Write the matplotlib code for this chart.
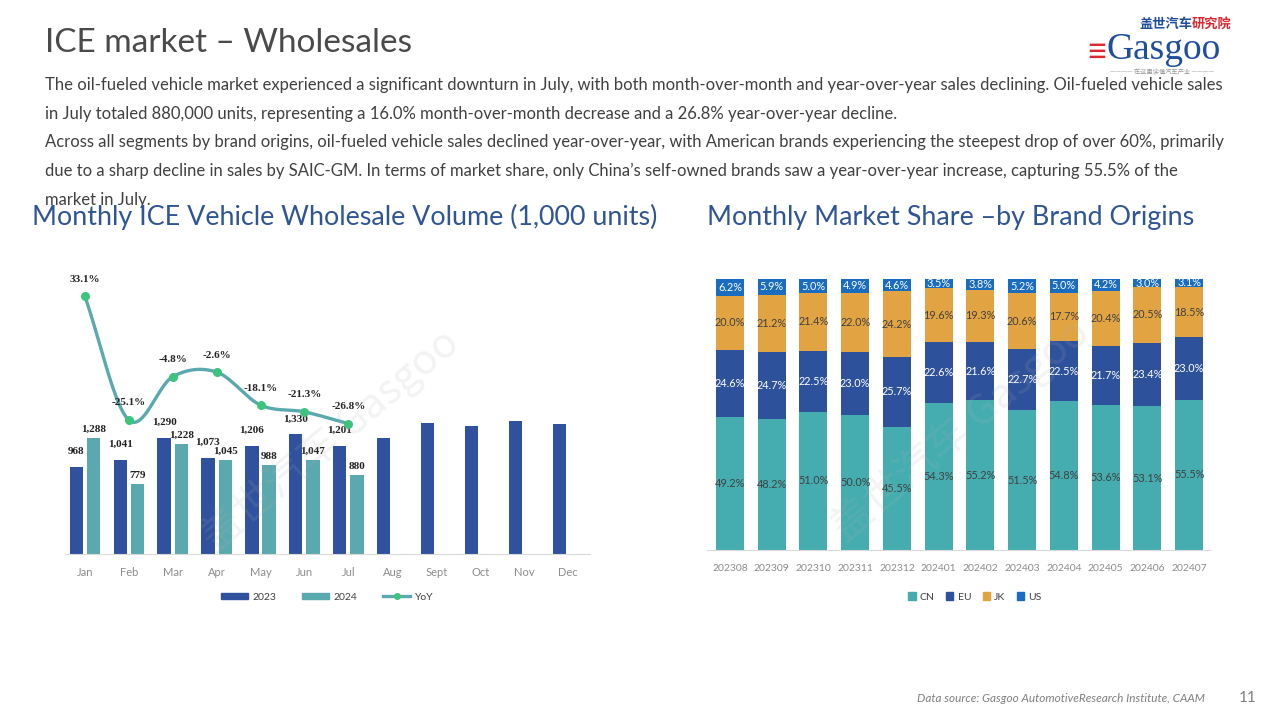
import numpy as np
import matplotlib
matplotlib.use("Agg")
import matplotlib.pyplot as plt
from matplotlib.patches import Patch
from matplotlib.lines import Line2D

plt.rcParams['font.family'] = ['Lato', 'Noto Sans CJK SC', 'DejaVu Sans']

# ---- data: left chart (1,000 units)
months = ['Jan', 'Feb', 'Mar', 'Apr', 'May', 'Jun', 'Jul', 'Aug', 'Sept', 'Oct', 'Nov', 'Dec']
sales_2023 = [968, 1041, 1290, 1073, 1206, 1330, 1201, 1290, 1455, 1420, 1475, 1445]
sales_2024 = [1288, 779, 1228, 1045, 988, 1047, 880]
yoy = [33.1, -25.1, -4.8, -2.6, -18.1, -21.3, -26.8]

# ---- data: right chart (share %)
periods = ['202308', '202309', '202310', '202311', '202312', '202401',
           '202402', '202403', '202404', '202405', '202406', '202407']
share_cn = [49.2, 48.2, 51.0, 50.0, 45.5, 54.3, 55.2, 51.5, 54.8, 53.6, 53.1, 55.5]
share_eu = [24.6, 24.7, 22.5, 23.0, 25.7, 22.6, 21.6, 22.7, 22.5, 21.7, 23.4, 23.0]
share_jk = [20.0, 21.2, 21.4, 22.0, 24.2, 19.6, 19.3, 20.6, 17.7, 20.4, 20.5, 18.5]
share_us = [6.2, 5.9, 5.0, 4.9, 4.6, 3.5, 3.8, 5.2, 5.0, 4.2, 3.0, 3.1]

c2023 = '#2f519e'
c2024 = '#5aa9ae'
c_line = '#5aa9ae'
c_mark = '#3cc47c'
c_cn, c_eu, c_jk, c_us = '#45adb0', '#2e519c', '#e2a443', '#1a6cc0'
grey_txt = '#404040'
tick_grey = '#8c8c8c'
title_blue = '#2f5597'

W, H = 1280, 720
fig = plt.figure(figsize=(12.8, 7.2), dpi=100)
fig.patch.set_facecolor('white')

def fx(px):
    return px / W

def fy(py):
    return 1 - py / H

# ---- header
fig.text(fx(45), fy(43), 'ICE market \u2013 Wholesales', fontsize=24, color='#4a4a4a',
         va='center', ha='left')
body = [
    'The oil-fueled vehicle market experienced a significant downturn in July, with both month-over-month and year-over-year sales declining. Oil-fueled vehicle sales',
    'in July totaled 880,000 units, representing a 16.0% month-over-month decrease and a 26.8% year-over-year decline.',
    'Across all segments by brand origins, oil-fueled vehicle sales declined year-over-year, with American brands experiencing the steepest drop of over 60%, primarily',
    'due to a sharp decline in sales by SAIC-GM. In terms of market share, only China\u2019s self-owned brands saw a year-over-year increase, capturing 55.5% of the',
    'market in July.',
]
for i, line in enumerate(body):
    fig.text(fx(45), fy(85 + i * 28.7), line, fontsize=12, color=grey_txt,
             va='center', ha='left')

# ---- logo
fig.text(fx(1139), fy(24), '\u76d6\u4e16\u6c7d\u8f66', fontsize=9.5, color='#1f4e9c',
         fontweight='bold', va='center', ha='left', family=['Noto Sans CJK SC'])
fig.text(fx(1192), fy(24), '\u7814\u7a76\u9662', fontsize=9.5, color='#d9282f',
         fontweight='bold', va='center', ha='left', family=['Noto Sans CJK SC'])
fig.text(fx(1086), fy(52), '\u2261', fontsize=26, color='#d9282f', va='center', ha='left')
fig.text(fx(1106), fy(50), 'Gasgoo', fontsize=27, color='#1f4e9c', va='center', ha='left',
         family=['Liberation Serif'])
fig.text(fx(1162), fy(72), '\u2014\u2014\u2014\u2014 \u5728\u8fd9\u91cc\u8bfb\u61c2\u6c7d\u8f66\u4ea7\u4e1a \u2014\u2014\u2014\u2014',
         fontsize=4.5, color='#999999', va='center', ha='center',
         family=['Noto Sans CJK SC'])

# ---- chart titles
fig.text(fx(32), fy(217), 'Monthly ICE Vehicle Wholesale Volume (1,000 units)', fontsize=19.4,
         color=title_blue, va='center', ha='left')
fig.text(fx(707), fy(217), 'Monthly Market Share \u2013by Brand Origins', fontsize=19.4,
         color=title_blue, va='center', ha='left')

# ---- left chart
ax1 = fig.add_axes([fx(65), fy(554), fx(525), 294 / H])
ax1b = ax1.twinx()
x = np.arange(len(months))
x24 = np.arange(len(sales_2024))
bw = 0.3
ax1.bar(x - 0.195, sales_2023, width=bw, color=c2023, zorder=2)
ax1.bar(x24 + 0.195, sales_2024, width=bw, color=c2024, zorder=2)
ax1.set_xlim(-0.45, 11.5)
ax1.set_ylim(0, 3270)
ax1.set_yticks([])
ax1.set_xticks(x, months)
ax1.tick_params(axis='x', length=0, pad=9, labelsize=8, labelcolor=tick_grey)
for s in ['top', 'left', 'right']:
    ax1.spines[s].set_visible(False)
ax1.spines['bottom'].set_color('#d9d9d9')

lab_font = dict(family=['Liberation Serif'], fontweight='bold', fontsize=8, color='#222222')
for i in range(7):
    ax1.annotate(f'{sales_2023[i]:,}', (x[i] - 0.195, sales_2023[i]), xytext=(0, 8),
                 textcoords='offset points', ha='center', va='bottom', **lab_font)
    ax1.annotate(f'{sales_2024[i]:,}', (x24[i] + 0.195, sales_2024[i]), xytext=(0, 3),
                 textcoords='offset points', ha='center', va='bottom', **lab_font)


# smooth curve through the YoY points (Catmull-Rom, like Excel's smoothed line)
def smooth(px, py, n=30):
    px = np.asarray(px, float)
    py = np.asarray(py, float)
    P = np.column_stack([px, py])
    P = np.vstack([2 * P[0] - P[1], P, 2 * P[-1] - P[-2]])
    out = []
    t = np.linspace(0, 1, n)[:, None]
    for k in range(1, len(P) - 2):
        p0, p1, p2, p3 = P[k - 1], P[k], P[k + 1], P[k + 2]
        seg = 0.5 * ((2 * p1) + (-p0 + p2) * t + (2 * p0 - 5 * p1 + 4 * p2 - p3) * t ** 2
                     + (-p0 + 3 * p1 - 3 * p2 + p3) * t ** 3)
        out.append(seg)
    out = np.vstack(out)
    return out[:, 0], out[:, 1]


sx, sy = smooth(x24, yoy)
ax1b.plot(sx, sy, color=c_line, lw=2.4, zorder=3, solid_capstyle='round')
ax1b.scatter(x24, yoy, s=30, color=c_mark, zorder=4)
ax1b.set_ylim(-88, 50)
ax1b.set_yticks([])
for s in ['top', 'left', 'right', 'bottom']:
    ax1b.spines[s].set_visible(False)
for i in range(7):
    ax1b.annotate(f'{yoy[i]:.1f}%', (x24[i], yoy[i]), xytext=(0, 9),
                  textcoords='offset points', ha='center', va='bottom', **lab_font)

handles = [Patch(color=c2023, label='2023'), Patch(color=c2024, label='2024'),
           Line2D([0], [0], color=c_line, lw=2.4, marker='o', markersize=4,
                  markerfacecolor=c_mark, markeredgecolor=c_mark, label='YoY')]
fig.legend(handles=handles, loc='center', bbox_to_anchor=(fx(327), fy(597)), ncol=3,
           frameon=False, fontsize=7.5, handlelength=2.6, handleheight=0.5,
           columnspacing=2.5, handletextpad=0.4, labelcolor='#404040')

# ---- right chart
ax2 = fig.add_axes([fx(707), fy(550), fx(503), 271 / H])
xr = np.arange(len(periods))
bwr = 0.67
cn = np.array(share_cn)
eu = np.array(share_eu)
jk = np.array(share_jk)
us = np.array(share_us)
ax2.bar(xr, cn, width=bwr, color=c_cn, label='CN')
ax2.bar(xr, eu, width=bwr, bottom=cn, color=c_eu, label='EU')
ax2.bar(xr, jk, width=bwr, bottom=cn + eu, color=c_jk, label='JK')
ax2.bar(xr, us, width=bwr, bottom=cn + eu + jk, color=c_us, label='US')
ax2.set_xlim(-0.55, 11.5)
ax2.set_ylim(0, 100)
ax2.set_yticks([])
ax2.set_xticks(xr, periods)
ax2.tick_params(axis='x', length=0, pad=10, labelsize=7.5, labelcolor=tick_grey)
for s in ['top', 'left', 'right']:
    ax2.spines[s].set_visible(False)
ax2.spines['bottom'].set_color('#d9d9d9')

for i in xr:
    segs = [(cn[i], 0, '#404040'), (eu[i], cn[i], 'white'),
            (jk[i], cn[i] + eu[i], '#404040'), (us[i], cn[i] + eu[i] + jk[i], 'white')]
    for val, base, col in segs:
        ax2.text(i, base + val / 2, f'{val:.1f}%', ha='center', va='center',
                 fontsize=7.8, color=col)

fig.legend(handles=[Patch(color=c, label=l) for c, l in
                    zip([c_cn, c_eu, c_jk, c_us], ['CN', 'EU', 'JK', 'US'])],
           loc='center', bbox_to_anchor=(fx(975), fy(597)), ncol=4, frameon=False,
           fontsize=7.5, handlelength=0.7, handleheight=0.7, columnspacing=1.1,
           handletextpad=0.4, labelcolor='#404040')

# ---- watermarks
for (wx, wy) in [(330, 440), (960, 430)]:
    fig.text(fx(wx), fy(wy), '\u76d6\u4e16\u6c7d\u8f66 Gasgoo', fontsize=30, color='#b0b0b0',
             alpha=0.15, rotation=40, ha='center', va='center', family=['Noto Sans CJK SC'])

# ---- footer
fig.text(fx(1205), fy(698), 'Data source: Gasgoo AutomotiveResearch Institute, CAAM',
         fontsize=8.5, color='#7f7f7f', style='italic', ha='right', va='center')
fig.text(fx(1248), fy(698), '11', fontsize=11, color='#7f7f7f', ha='center', va='center')

fig.savefig('out.png', dpi=100)
